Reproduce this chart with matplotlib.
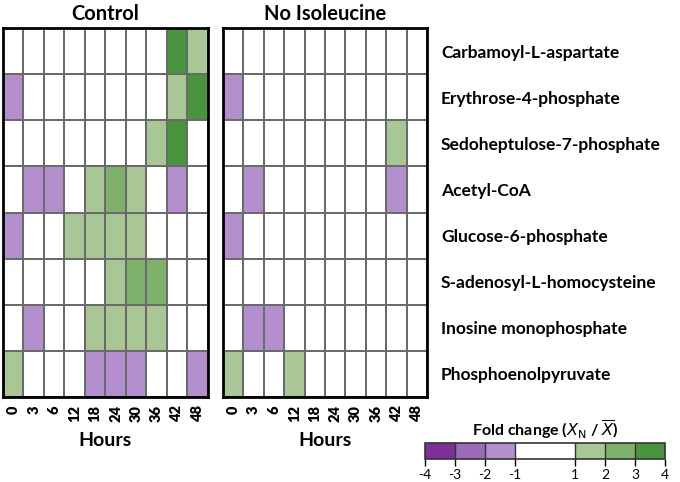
import numpy as np
import matplotlib
matplotlib.use('Agg')
from matplotlib import pyplot as plt
from matplotlib.colors import ListedColormap, BoundaryNorm

plt.rcParams['font.family'] = ['Lato', 'DejaVu Sans']

# hours sampled
hours = ['0', '3', '6', '12', '18', '24', '30', '36', '42', '48']

metabolites = ['Carbamoyl-L-aspartate', 'Erythrose-4-phosphate', 'Sedoheptulose-7-phosphate',
               'Acetyl-CoA', 'Glucose-6-phosphate', 'S-adenosyl-L-homocysteine',
               'Inosine monophosphate', 'Phosphoenolpyruvate']

# fold change per cell (0 = between -1 and 1)
control = [
    [0, 0, 0, 0, 0, 0, 0, 0, 3.5, 1.5],
    [-1.5, 0, 0, 0, 0, 0, 0, 0, 1.5, 3.5],
    [0, 0, 0, 0, 0, 0, 0, 1.5, 3.5, 0],
    [0, -1.5, -1.5, 0, 1.5, 2.5, 1.5, 0, -1.5, 0],
    [-1.5, 0, 0, 1.5, 1.5, 1.5, 1.5, 0, 0, 0],
    [0, 0, 0, 0, 0, 1.5, 2.5, 2.5, 0, 0],
    [0, -1.5, 0, 0, 1.5, 1.5, 1.5, 1.5, 0, 0],
    [1.5, 0, 0, 0, -1.5, -1.5, -1.5, 0, 0, -1.5],
]

no_isoleucine = [
    [0, 0, 0, 0, 0, 0, 0, 0, 0, 0],
    [-1.5, 0, 0, 0, 0, 0, 0, 0, 0, 0],
    [0, 0, 0, 0, 0, 0, 0, 0, 1.5, 0],
    [0, -1.5, 0, 0, 0, 0, 0, 0, -1.5, 0],
    [-1.5, 0, 0, 0, 0, 0, 0, 0, 0, 0],
    [0, 0, 0, 0, 0, 0, 0, 0, 0, 0],
    [0, -1.5, -1.5, 0, 0, 0, 0, 0, 0, 0],
    [1.5, 0, 0, 1.5, 0, 0, 0, 0, 0, 0],
]

bounds = [-4, -3, -2, -1, 1, 2, 3, 4]
colors = ['#7d2f9b', '#9c6bbb', '#b38ecc', '#ffffff', '#a9c697', '#80b16c', '#4b943f']
cmap = ListedColormap(colors)
norm = BoundaryNorm(bounds, cmap.N)

fig = plt.figure(figsize=(6.8, 4.82), dpi=100)

panels = [('Control', control, [0.0044, 0.1763, 0.301, 0.7656]),
          ('No Isoleucine', no_isoleucine, [0.328, 0.1763, 0.300, 0.7656])]

axes = []
for title, data, pos in panels:
    ax = fig.add_axes(pos)
    ax.pcolormesh(np.array(data), cmap=cmap, norm=norm, edgecolors='#6a6a6a', linewidth=1.1)
    ax.set_xlim(0, len(hours))
    ax.set_ylim(len(metabolites), 0)
    ax.set_xticks(np.arange(len(hours)) + 0.5)
    ax.set_xticklabels(hours, rotation=90, fontsize=10.5, fontweight='heavy')
    ax.tick_params(axis='x', length=0, pad=6)
    ax.set_yticks([])
    ax.set_xlabel('Hours', fontsize=14, fontweight='bold', labelpad=7)
    ax.set_title(title, fontsize=14.5, fontweight='bold', pad=6)
    for s in ax.spines.values():
        s.set_linewidth(2)
        s.set_color('black')
    axes.append(ax)

ax2 = axes[1]
ax2.yaxis.tick_right()
ax2.set_yticks(np.arange(len(metabolites)) + 0.5)
ax2.set_yticklabels(metabolites, fontsize=12.5, fontweight='bold')
ax2.tick_params(axis='y', length=0, pad=10)

# colour key
cax = fig.add_axes([0.625, 0.0477, 0.353, 0.033])
cb = fig.colorbar(plt.cm.ScalarMappable(norm=norm, cmap=cmap), cax=cax,
                  orientation='horizontal', spacing='proportional', ticks=bounds)
cb.set_ticklabels([str(b) for b in bounds])
cb.outline.set_linewidth(1.2)
cb.outline.set_edgecolor('#333333')
for b in bounds[1:-1]:
    cax.axvline(b, color='#333333', lw=1)
cax.tick_params(length=5, width=1, labelsize=10, pad=2)
cax.set_title(r'Fold change ($X_{\mathrm{N}}$ / $\overline{X}$)', fontsize=11.5,
              fontweight='bold', pad=5)

plt.savefig('out.png', dpi=100)
